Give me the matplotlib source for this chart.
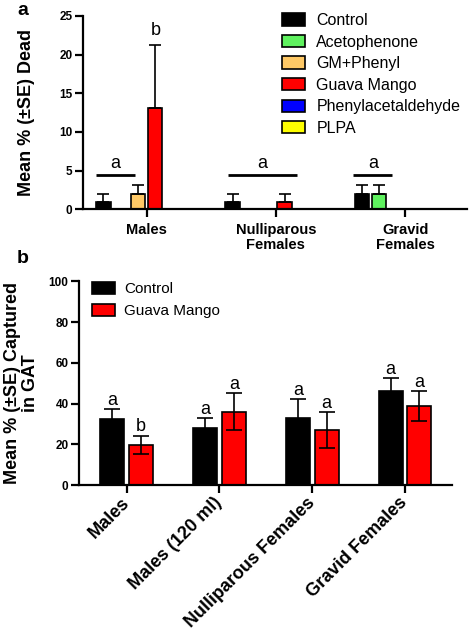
import matplotlib
matplotlib.use('Agg')
import matplotlib.pyplot as plt
import numpy as np

plt.rcParams['font.family'] = ['Liberation Sans', 'DejaVu Sans']

W, H = 472, 633

# ---- panel a data: mean % dead (+SE) ----
groups_a = ['Males', 'Nulliparous\nFemales', 'Gravid\nFemales']
treatments = ['Control', 'Acetophenone', 'GM+Phenyl', 'Guava Mango',
              'Phenylacetaldehyde', 'PLPA']
colors_a = ['#000000', '#5FF25F', '#FFC966', '#FF0000', '#0000FF', '#FFFF00']
control_dead = [1.0, 1.0, 2.0]
aceto_dead = [0.0, 0.0, 2.0]
gmphenyl_dead = [2.0, 0.0, 0.0]
guava_dead = [13.05, 1.0, 0.0]
phenylacet_dead = [0.0, 0.0, 0.0]
plpa_dead = [0.0, 0.0, 0.0]
control_dead_se = [1.0, 1.0, 1.2]
aceto_dead_se = [0.0, 0.0, 1.2]
gmphenyl_dead_se = [1.2, 0.0, 0.0]
guava_dead_se = [8.15, 1.0, 0.0]
phenylacet_dead_se = [0.0, 0.0, 0.0]
plpa_dead_se = [0.0, 0.0, 0.0]
group_letters_a = ['a', 'a', 'a']

# ---- panel b data: mean % captured in GAT (+SE) ----
groups_b = ['Males', 'Males (120 ml)', 'Nulliparous Females', 'Gravid Females']
control_cap = [32.4, 28.0, 32.9, 46.3]
control_cap_se = [4.8, 5.1, 9.5, 6.1]
guava_cap = [19.8, 36.0, 26.8, 38.8]
guava_cap_se = [4.5, 9.0, 8.8, 7.3]
control_letters = ['a', 'a', 'a', 'a']
guava_letters = ['b', 'a', 'a', 'a']

means_a = [control_dead, aceto_dead, gmphenyl_dead, guava_dead, phenylacet_dead, plpa_dead]
ses_a = [control_dead_se, aceto_dead_se, gmphenyl_dead_se, guava_dead_se,
         phenylacet_dead_se, plpa_dead_se]

fig = plt.figure(figsize=(W / 100, H / 100), dpi=100)


def style_axes(ax):
    for s in ['top', 'right']:
        ax.spines[s].set_visible(False)
    for s in ['left', 'bottom']:
        ax.spines[s].set_linewidth(1.6)
    ax.tick_params(width=1.6, length=6)
    ax.tick_params(axis='y', labelsize=8.5, pad=1.5)
    for lab in ax.get_yticklabels():
        lab.set_fontweight('bold')


# ---------------- panel a ----------------
ax1 = fig.add_axes([83 / W, 1 - 209.3 / H, 383.7 / W, 193.3 / H])
x = np.arange(len(groups_a))
step, bw = 0.134, 0.11
for i, (name, col) in enumerate(zip(treatments, colors_a)):
    m = np.array(means_a[i])
    se = np.array(ses_a[i])
    ax1.bar(x + (i - 2.5) * step, m, bw, color=col, edgecolor='black',
            linewidth=1.2, label=name,
            yerr=[np.zeros_like(se), se],
            error_kw=dict(ecolor='black', elinewidth=1.2, capsize=4, capthick=1.2))

ax1.set_xlim(-0.493, 2.477)
ax1.set_ylim(0, 25)
ax1.set_yticks(np.arange(0, 26, 5))
ax1.set_xticks(x)
ax1.set_xticklabels(groups_a, fontweight='bold', fontsize=10.5, linespacing=1.05)
ax1.tick_params(axis='x', pad=4)
style_axes(ax1)

# significance lines over the small bars
line_spans = [(-0.39, -0.094), (-0.37, 0.165), (-0.40, -0.10)]
line_y = 4.4
for g, (x0, x1) in enumerate(line_spans):
    ax1.plot([g + x0, g + x1], [line_y, line_y], color='black', lw=2.0,
             solid_capstyle='butt', clip_on=False)
    ax1.text(g + (x0 + x1) / 2, line_y + 0.9, group_letters_a[g], ha='center',
             va='baseline', fontsize=13)
ax1.text(x[0] + 0.5 * step, guava_dead[0] + guava_dead_se[0] + 1.3, 'b',
         ha='center', va='baseline', fontsize=13)

ax1.legend(loc='upper left', bbox_to_anchor=(282 / W, 1 - 13 / H),
           bbox_transform=fig.transFigure, frameon=False, fontsize=11.5,
           handlelength=1.45, handleheight=0.8, handletextpad=0.7,
           labelspacing=0.41, borderpad=0, borderaxespad=0)

fig.text(27 / W, 1 - 113 / H, 'Mean % (±SE) Dead', rotation=90, ha='center',
         va='center', fontsize=13, fontweight='bold')
fig.text(17 / W, 1 - 2 / H, 'a', ha='left', va='top', fontsize=14,
         fontweight='bold')

# ---------------- panel b ----------------
ax2 = fig.add_axes([79 / W, 1 - 485 / H, 372.7 / W, 203.7 / H])
xb = np.arange(len(groups_b))
off, bw2 = 0.155, 0.26
ekw = dict(ecolor='black', elinewidth=1.2, capsize=6, capthick=1.2)
ax2.bar(xb - off, control_cap, bw2, color='black', edgecolor='black',
        linewidth=1.2, yerr=control_cap_se, error_kw=ekw, label='Control')
ax2.bar(xb + off, guava_cap, bw2, color='#FF0000', edgecolor='black',
        linewidth=1.2, yerr=guava_cap_se, error_kw=ekw, label='Guava Mango')
for i in range(len(groups_b)):
    ax2.text(xb[i] - off, control_cap[i] + control_cap_se[i] + 2.0,
             control_letters[i], ha='center', va='baseline', fontsize=13)
    ax2.text(xb[i] + off, guava_cap[i] + guava_cap_se[i] + 2.0,
             guava_letters[i], ha='center', va='baseline', fontsize=13)

ax2.set_xlim(-0.514, 3.503)
ax2.set_ylim(0, 100)
ax2.set_yticks(np.arange(0, 101, 20))
ax2.set_xticks(xb)
ax2.set_xticklabels(groups_b, fontweight='bold', fontsize=13, rotation=45,
                    ha='right', va='center', rotation_mode='anchor')
ax2.tick_params(axis='x', pad=5)
style_axes(ax2)

ax2.legend(loc='upper left', bbox_to_anchor=(92 / W, 1 - 282 / H),
           bbox_transform=fig.transFigure, frameon=False, fontsize=11,
           handlelength=1.5, handleheight=0.85, handletextpad=0.6,
           labelspacing=0.5, borderpad=0, borderaxespad=0)

fig.text(21.7 / W, 1 - 383 / H, 'Mean % (±SE) Captured\nin GAT', rotation=90,
         ha='center', va='center', fontsize=13, fontweight='bold',
         linespacing=1.1)
fig.text(17 / W, 1 - 250 / H, 'b', ha='left', va='top', fontsize=14,
         fontweight='bold')

fig.savefig('out.png', dpi=100)
